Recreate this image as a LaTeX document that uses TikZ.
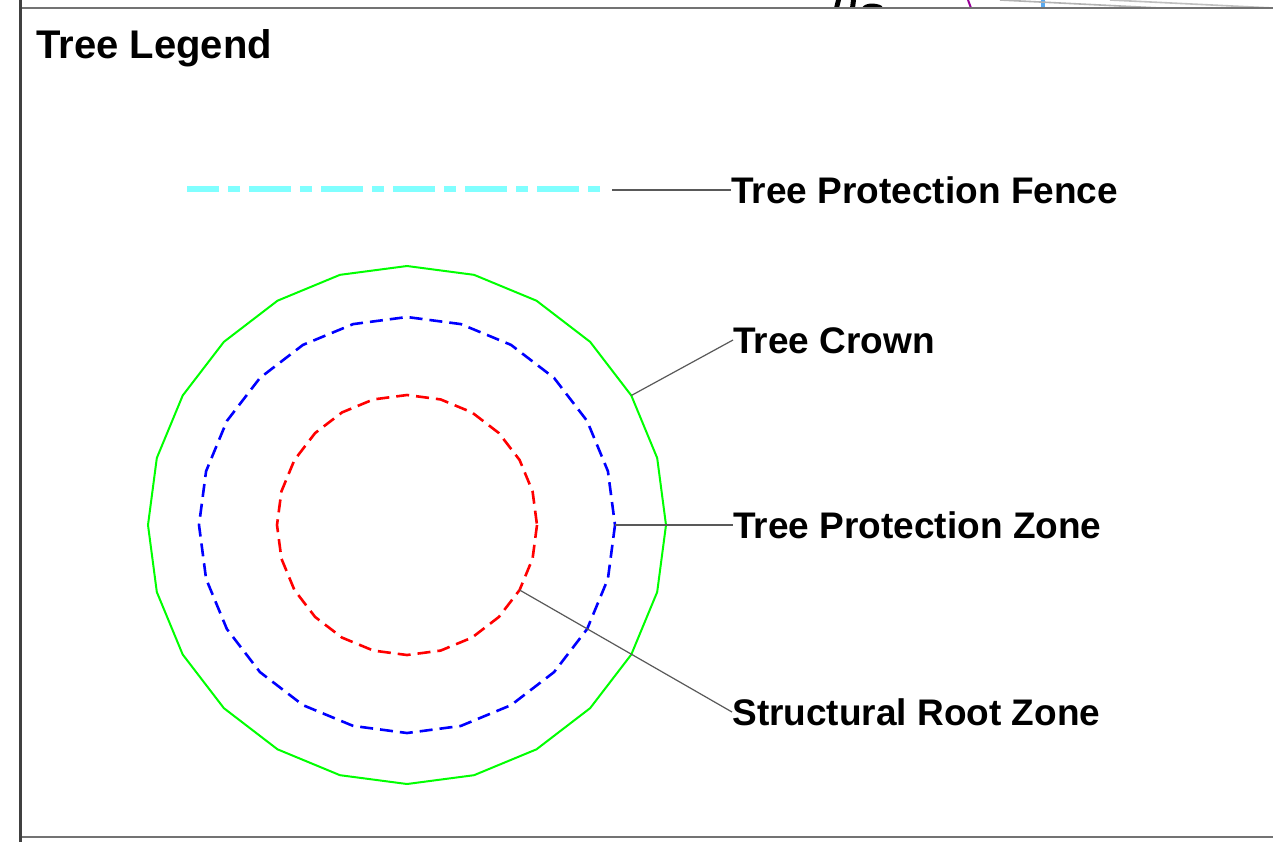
\documentclass[tikz,border=0pt]{standalone}
\usepackage{fontspec}
\setmainfont{Liberation Sans}
\definecolor{fencecyan}{RGB}{128,255,255}
\definecolor{fragblue}{RGB}{90,170,240}
\begin{document}
\begin{tikzpicture}[x=0.5pt,y=-0.5pt,
  frameline/.style={draw=black!55,line width=1pt},
  leader/.style={draw=black!65,line width=0.6pt},
  label/.style={anchor=west,inner sep=0pt,text height=13.2pt,text depth=0pt,font=\fontsize{18.5pt}{22pt}\selectfont\bfseries},
  fence/.style={draw=fencecyan,line width=2.6pt,dash pattern=on 21pt off 4.5pt on 6pt off 4.5pt,dash phase=5pt},
  crown/.style={draw=green,line width=1pt},
  tpz/.style={draw=blue,line width=1.3pt,dash pattern=on 6.5pt off 3.5pt},
  srz/.style={draw=red,line width=1.3pt,dash pattern=on 6.5pt off 3.5pt}]
\useasboundingbox (0,0) rectangle (1273,842);
\fill[white] (0,0) rectangle (1273,842);
% fragments of neighbouring drawing above the frame
\fill[black] (834,8) -- (836,0) -- (841,0) -- (839,8) -- cycle;
\fill[black] (850,8) -- (851,0) -- (856,0) -- (855,8) -- cycle;
\fill[black] (862,8) .. controls (864,3) and (875,2) .. (882,6) -- (882,8) -- cycle;
\draw[violet!80!magenta,line width=1pt] (968,0) -- (971,8);
\draw[fragblue,line width=2.4pt] (1043,0) -- (1043,8);
\draw[black!30,line width=0.8pt] (1000,0) -- (1160,8);
\draw[black!25,line width=0.8pt] (1110,0) -- (1273,8);
% frame
\draw[frameline] (20,8) -- (1273,8);
\draw[frameline] (20,836.5) -- (1273,836.5);
\draw[draw=black!75,line width=1.5pt] (20.5,0) -- (20.5,842);
% title
\node[anchor=base west,inner sep=0pt,font=\fontsize{20pt}{24pt}\selectfont\bfseries] (title) at (36,58) {Tree Legend};
% fence sample
\coordinate (fenceA) at (187,189);
\coordinate (fenceB) at (601,189);
\draw[fence] (fenceA) -- (fenceB);
% circles
\draw[crown] plot[samples=25,domain=0:360] ({407+259*cos(\x)},{525+259*sin(\x)}) -- cycle;
\draw[tpz] plot[samples=25,domain=0:360] ({407+208*cos(\x)},{525+208*sin(\x)}) -- cycle;
\draw[srz] plot[samples=25,domain=0:360] ({407+130*cos(\x)},{525+130*sin(\x)}) -- cycle;
\coordinate (pFence) at (612,190);
\coordinate (pCrown) at ({407+259*cos(30)},{525-259*sin(30)});
\coordinate (pTpz) at (615,525);
\coordinate (pSrz) at ({407+130*cos(30)},{525+130*sin(30)});
% labels
\node[label] (lFence) at (731,190) {Tree Protection Fence};
\node[label] (lCrown) at (733,340) {Tree Crown};
\node[label] (lTpz) at (733,525) {Tree Protection Zone};
\node[label] (lSrz) at (732,712) {Structural Root Zone};
% leaders
\draw[leader] (pFence) -- (lFence.west);
\draw[leader] (pCrown) -- (lCrown.west);
\draw[leader] (pTpz) -- (lTpz.west);
\draw[leader] (pSrz) -- (lSrz.west);
\end{tikzpicture}
\end{document}
